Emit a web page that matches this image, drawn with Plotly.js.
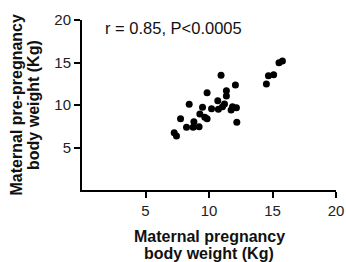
<!DOCTYPE html>
<html><head><meta charset="utf-8">
<script src="https://cdn.plot.ly/plotly-3.0.1.min.js"></script>
<style>html,body{margin:0;padding:0;background:#fff}#c{width:346px;height:262px}</style>
</head><body><div id="c"></div>
<script>
var pregnancyWeight = [7.26,7.44,7.76,8.23,8.44,8.75,8.81,9.22,9.28,9.49,9.67,9.85,9.85,10.2,10.69,10.74,10.95,11.06,11.22,11.37,11.37,11.74,11.85,12.08,12.16,12.19,14.52,14.68,15.09,15.51,15.78];
var prePregnancyWeight = [6.74,6.35,8.39,7.37,10.08,7.37,8.04,7.45,8.94,9.73,8.55,8.39,11.45,9.57,10.51,9.49,13.49,9.8,10.12,11.68,11.06,9.41,9.8,12.35,9.69,7.96,12.47,13.45,13.56,14.98,15.18];
var tickValues = [5,10,15,20];
var tickLabels = ["5","10","15","20"];
var statText = "r = 0.85, P<0.0005";
var xTitleLines = ["Maternal pregnancy","body weight (Kg)"];
var yTitleLines = ["Maternal pre-pregnancy","body weight (Kg)"];

var font = "Liberation Sans, Arial, sans-serif";
var axisCommon = {
  range:[0,20], tickmode:"array", tickvals:tickValues, ticktext:tickLabels,
  showline:true, linecolor:"#000", linewidth:2, ticks:"outside", ticklen:6, tickwidth:2, tickcolor:"#000",
  showgrid:false, zeroline:false, tickfont:{family:font,size:15,color:"#222"}, fixedrange:true
};
var titleFont = {family:font,size:16,color:"#111"};
function ann(text, x, y, angle) {
  return {text:"<b>"+text+"</b>", xref:"paper", yref:"paper", x:x, y:y, xanchor:"center", yanchor:"middle",
          textangle:angle, showarrow:false, font:titleFont};
}
var layout = {
  width:346, height:262, margin:{l:82,r:10,t:20,b:72},
  paper_bgcolor:"#fff", plot_bgcolor:"#fff", showlegend:false,
  xaxis:Object.assign({}, axisCommon),
  yaxis:Object.assign({}, axisCommon),
  annotations:[
    {text:statText, xref:"paper", yref:"paper", x:0.082, y:0.955, xanchor:"left", yanchor:"middle", showarrow:false, font:{family:font,size:16.5,color:"#111"}},
    ann(xTitleLines[0], 0.5, -0.272, 0),
    ann(xTitleLines[1], 0.5, -0.372, 0),
    ann(yTitleLines[0], -0.258, 0.5, -90),
    ann(yTitleLines[1], -0.193, 0.5, -90)
  ]
};
Plotly.newPlot("c", [{
  x:pregnancyWeight, y:prePregnancyWeight, type:"scatter", mode:"markers",
  marker:{color:"#000", size:7}, cliponaxis:false
}], layout, {staticPlot:true});
</script></body></html>
